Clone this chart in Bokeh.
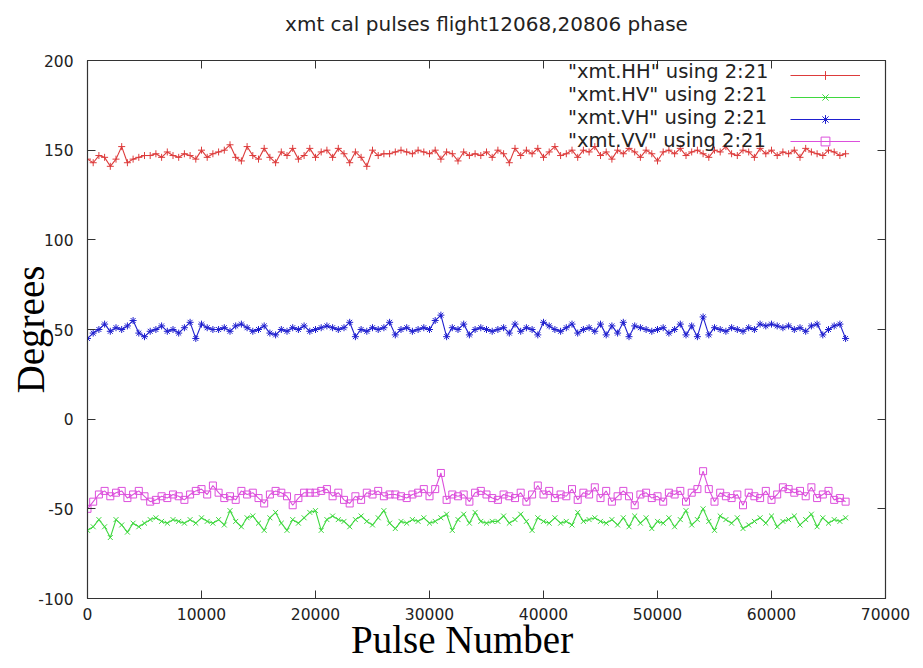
from bokeh.plotting import figure
from bokeh.models import Legend, LegendItem, LinearAxis, FixedTicker
from bokeh.embed import file_html
from bokeh.resources import INLINE

pulse = [
    0, 500, 1000, 1500, 2000, 2500, 3000, 3500, 4000, 4500,
    5000, 5500, 6000, 6500, 7000, 7500, 8000, 8500, 9000, 9500,
    10000, 10500, 11000, 11500, 12000, 12500, 13000, 13500, 14000, 14500,
    15000, 15500, 16000, 16500, 17000, 17500, 18000, 18500, 19000, 19500,
    20000, 20500, 21000, 21500, 22000, 22500, 23000, 23500, 24000, 24500,
    25000, 25500, 26000, 26500, 27000, 27500, 28000, 28500, 29000, 29500,
    30000, 30500, 31000, 31500, 32000, 32500, 33000, 33500, 34000, 34500,
    35000, 35500, 36000, 36500, 37000, 37500, 38000, 38500, 39000, 39500,
    40000, 40500, 41000, 41500, 42000, 42500, 43000, 43500, 44000, 44500,
    45000, 45500, 46000, 46500, 47000, 47500, 48000, 48500, 49000, 49500,
    50000, 50500, 51000, 51500, 52000, 52500, 53000, 53500, 54000, 54500,
    55000, 55500, 56000, 56500, 57000, 57500, 58000, 58500, 59000, 59500,
    60000, 60500, 61000, 61500, 62000, 62500, 63000, 63500, 64000, 64500,
    65000, 65500, 66000, 66500,
]

hh = [
    145, 143, 147, 146, 141, 145, 152, 143, 145, 146,
    147, 147, 148, 146, 149, 147, 146, 148, 147, 145,
    150, 146, 148, 149, 150, 153, 146, 144, 152, 147,
    145, 151, 146, 143, 149, 147, 151, 145, 147, 151,
    146, 149, 150, 146, 151, 148, 143, 149, 146, 141,
    150, 147, 148, 148, 149, 150, 149, 148, 150, 149,
    148, 150, 145, 149, 148, 144, 149, 147, 148, 147,
    149, 146, 150, 148, 143, 151, 147, 150, 148, 151,
    146, 149, 152, 147, 148, 150, 146, 150, 149, 152,
    147, 149, 145, 150, 148, 151, 149, 146, 150, 148,
    144, 149, 150, 148, 151, 147, 149, 150, 148, 146,
    150, 149, 152, 148, 147, 150, 149, 146, 151, 148,
    150, 147, 149, 148, 150, 146, 151, 149, 148, 147,
    150, 149, 147, 148,
]

hv = [
    -62, -60, -56, -60, -66, -56, -59, -63, -58, -60,
    -58, -56, -55, -57, -58, -56, -57, -58, -56, -58,
    -55, -57, -58, -56, -59, -51, -57, -60, -55, -54,
    -58, -62, -55, -52, -58, -62, -56, -58, -55, -52,
    -51, -62, -56, -54, -56, -57, -60, -56, -54, -57,
    -59, -55, -51, -58, -61, -57, -58, -56, -57, -55,
    -58, -57, -55, -53, -62, -56, -53, -58, -52, -57,
    -58, -57, -57, -54, -58, -56, -53, -57, -62, -55,
    -57, -58, -55, -58, -57, -59, -52, -57, -56, -55,
    -57, -58, -56, -59, -55, -60, -54, -58, -55, -61,
    -57, -58, -55, -60, -56, -51, -59, -56, -50, -57,
    -62, -54, -56, -58, -55, -61, -59, -57, -55, -58,
    -54, -60, -57, -56, -54, -59, -56, -53, -60, -55,
    -58, -56, -57, -55,
]

vh = [
    45, 48, 50, 53, 49, 51, 50, 52, 55, 48,
    46, 49, 50, 52, 49, 50, 48, 51, 54, 45,
    53, 51, 50, 50, 51, 49, 52, 53, 51, 49,
    50, 52, 48, 47, 50, 49, 51, 50, 52, 49,
    50, 51, 52, 51, 50, 51, 54, 46, 50, 49,
    51, 50, 51, 54, 47, 50, 51, 49, 50, 51,
    50, 55, 58, 46, 51, 50, 53, 47, 50, 51,
    50, 49, 50, 51, 48, 53, 49, 51, 50, 47,
    54, 52, 50, 49, 51, 53, 48, 50, 51, 49,
    53, 47, 52, 48, 54, 46, 52, 51, 50, 49,
    50, 51, 48, 50, 53, 47, 52, 46, 57, 47,
    51, 50, 49, 51, 50, 49, 51, 50, 53, 52,
    53, 52, 51, 52, 50, 51, 49, 52, 53, 47,
    50, 52, 53, 45,
]

vv = [
    -50, -46, -42, -40, -43, -41, -40, -44, -42, -40,
    -43, -46, -45, -43, -44, -42, -43, -45, -42, -40,
    -39, -42, -37, -41, -44, -43, -45, -40, -42, -41,
    -44, -47, -42, -40, -41, -43, -48, -44, -41, -41,
    -41, -40, -39, -43, -41, -45, -47, -43, -45, -41,
    -42, -40, -43, -42, -42, -43, -44, -42, -41, -39,
    -43, -39, -30, -45, -42, -43, -42, -46, -41, -40,
    -42, -44, -45, -42, -43, -44, -41, -46, -42, -37,
    -42, -40, -44, -42, -43, -39, -45, -41, -42, -38,
    -44, -40, -46, -43, -40, -43, -48, -42, -41, -44,
    -43, -46, -41, -42, -40, -46, -41, -39, -29, -39,
    -46, -41, -43, -44, -42, -48, -41, -43, -44, -40,
    -45, -42, -38, -39, -41, -40, -43, -38, -44, -42,
    -40, -45, -44, -46,
]

labels = ['"xmt.HH" using 2:21', '"xmt.HV" using 2:21',
          '"xmt.VH" using 2:21', '"xmt.VV" using 2:21']
colors = ["#dd3b3b", "#3fd83f", "#1f1fcf", "#dc4fdc"]
markers = ["cross", "x", "asterisk", "square"]
x_ticks = [0, 10000, 20000, 30000, 40000, 50000, 60000, 70000]
y_ticks = [-100, -50, 0, 50, 100, 150, 200]

p = figure(
    width=915, height=664,
    min_border_left=87, min_border_right=30,
    min_border_top=60, min_border_bottom=66,
    x_range=(0, 70000), y_range=(-100, 200),
    output_backend="svg", toolbar_location=None,
    title="xmt cal pulses flight12068,20806 phase",
)
p.title.align = "center"
p.title.text_font = "DejaVu Sans"
p.title.text_font_size = "20px"
p.title.text_font_style = "normal"
p.title.text_color = "#222222"
p.title.offset = 0

p.xgrid.grid_line_color = None
p.ygrid.grid_line_color = None
p.outline_line_color = "#333333"
p.outline_line_width = 1.2

for ax in p.xaxis:
    ax.ticker = FixedTicker(ticks=x_ticks)
    ax.axis_label = "Pulse Number\u00a0\u00a0\u00a0\u00a0\u00a0"
    ax.major_label_standoff = 9
    ax.axis_label_standoff = -5
    ax.major_label_overrides = {t: str(t) for t in x_ticks}
for ax in p.yaxis:
    ax.ticker = FixedTicker(ticks=y_ticks)
    ax.axis_label = "Degrees"
    ax.major_label_standoff = 14
    ax.axis_label_standoff = -17
    ax.major_label_overrides = {t: str(t) for t in y_ticks}

for ax in list(p.xaxis) + list(p.yaxis):
    ax.major_tick_in = 8
    ax.major_tick_out = 0
    ax.minor_tick_line_color = None
    ax.axis_line_color = "#333333"
    ax.major_tick_line_color = "#333333"
    ax.major_label_text_font = "DejaVu Sans"
    ax.major_label_text_font_size = "15.5px"
    ax.major_label_text_color = "#222222"
    ax.axis_label_text_font = "Liberation Serif"
    ax.axis_label_text_font_size = "39px"
    ax.axis_label_text_font_style = "normal"
    ax.axis_label_text_color = "black"

top_axis = LinearAxis(ticker=FixedTicker(ticks=x_ticks), major_tick_in=8, major_tick_out=0,
                      minor_tick_line_color=None, major_label_text_font_size="0px",
                      major_label_standoff=0,
                      axis_label=" ", axis_label_text_font_size="16px",
                      axis_label_standoff=0,
                      axis_line_color="#333333", major_tick_line_color="#333333")
right_axis = LinearAxis(ticker=FixedTicker(ticks=y_ticks), major_tick_in=8, major_tick_out=0,
                        minor_tick_line_color=None, major_label_text_font_size="0px",
                        major_label_standoff=0,
                        axis_line_color="#333333", major_tick_line_color="#333333")
p.add_layout(top_axis, "above")
p.add_layout(right_axis, "right")

text_items = []
glyph_items = []
for ys, lab, col, mk in zip([hh, hv, vh, vv], labels, colors, markers):
    ln = p.line(pulse, ys, line_color=col, line_width=1.1)
    sc = p.scatter(pulse, ys, marker=mk, size=7, line_color=col, fill_color=None, line_width=1)
    text_items.append(LegendItem(label=lab, renderers=[ln]))
    glyph_items.append(LegendItem(label=" ", renderers=[ln, sc]))

def style_legend(lg):
    lg.background_fill_alpha = 0
    lg.border_line_color = None
    lg.label_text_font = "DejaVu Sans"
    lg.label_text_font_size = "19.5px"
    lg.label_text_color = "#222222"
    lg.label_height = 22
    lg.glyph_height = 22
    lg.spacing = 0
    lg.padding = 0
    lg.margin = 0
    lg.label_standoff = 0

text_legend = Legend(items=text_items, location=(481, 446))
style_legend(text_legend)
text_legend.glyph_width = 0

glyph_legend = Legend(items=glyph_items, location=(703, 446))
style_legend(glyph_legend)
glyph_legend.glyph_width = 70

p.add_layout(text_legend)
p.add_layout(glyph_legend)

open("out.html", "w").write(file_html(p, INLINE))
